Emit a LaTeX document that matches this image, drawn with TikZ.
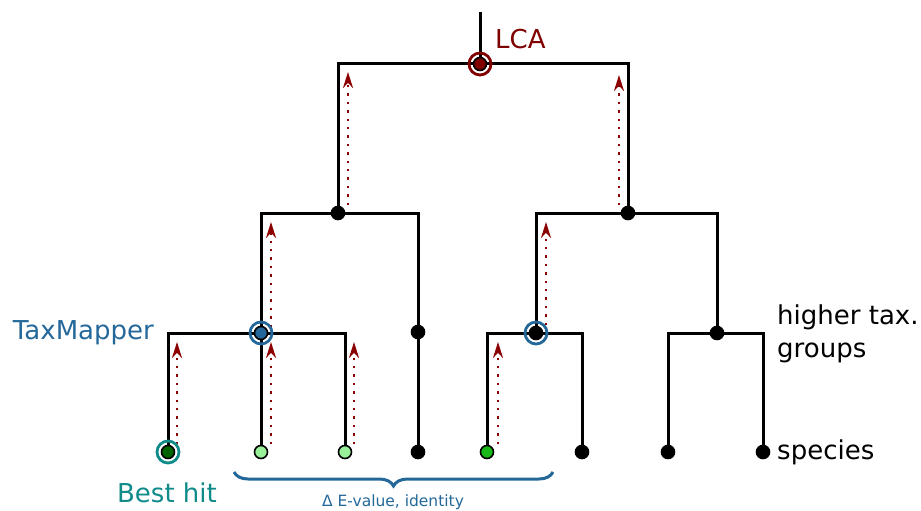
\documentclass[tikz,border=0pt]{standalone}
\usepackage{fontspec}
\setmainfont{DejaVu Sans}
\usetikzlibrary{arrows.meta,calc,decorations.pathreplacing}
\definecolor{lcared}{HTML}{7F0000}
\definecolor{arrred}{HTML}{8B0000}
\definecolor{tmblue}{HTML}{24689A}
\definecolor{hitteal}{HTML}{118A8A}
\definecolor{dkgreen}{HTML}{006400}
\definecolor{ltgreen}{HTML}{98F098}
\definecolor{mdgreen}{HTML}{18B818}
\tikzset{
  edge/.style={line width=3pt, line join=miter},
  dot/.style={circle, fill=black, draw=black, line width=1.6pt, inner sep=0pt, minimum size=13pt},
  ring/.style={circle, draw, line width=2.8pt, inner sep=0pt, minimum size=22pt},
  uparr/.style={draw=arrred, line width=2.4pt, dash pattern=on 2.4pt off 6pt,
     -{Stealth[length=16pt,width=10pt,fill=arrred]}},
  lbl/.style={font=\fontsize{26}{33}\selectfont, inner sep=0pt},
}
\begin{document}
\begin{tikzpicture}[x=1pt,y=-1pt]
\useasboundingbox (0,0) rectangle (921,511);
% positions
\coordinate (top) at (480,12);
\coordinate (lca) at (480,64);
\coordinate (n1) at (338,213);
\coordinate (n2) at (628,213);
\coordinate (n11) at (261,333);
\coordinate (n12) at (418,332);
\coordinate (n21) at (536,333);
\coordinate (n22) at (717,333);
\coordinate (l1) at (168,452);
\coordinate (l2) at (261,452);
\coordinate (l3) at (345,452);
\coordinate (l4) at (418,452);
\coordinate (l5) at (487,452);
\coordinate (l6) at (582,452);
\coordinate (l7) at (668,452);
\coordinate (l8) at (763,452);
% tree edges
\draw[edge] (top) -- (lca);
\draw[edge] (n1) |- (lca) -| (n2);
\draw[edge] (n11) |- (n1) -| (n12);
\draw[edge] (n12) -- (l4);
\draw[edge] (l1) |- (n11) -| (l3);
\draw[edge] (n11) -- (l2);
\draw[edge] (n21) |- (n2) -| (n22);
\draw[edge] (l5) |- (n21) -| (l6);
\draw[edge] (l7) |- (n22) -| (l8);
% arrows
\draw[uparr] ($(l1)+(9,-8)$) -- ($(l1|-n11)+(9,9)$);
\draw[uparr] ($(l2)+(10,-8)$) -- ($(l2|-n11)+(10,9)$);
\draw[uparr] ($(l3)+(9,-8)$) -- ($(l3|-n11)+(9,9)$);
\draw[uparr] ($(l5)+(11,-8)$) -- ($(l5|-n21)+(11,9)$);
\draw[uparr] ($(n11)+(10,-6)$) -- ($(n11|-n1)+(10,9)$);
\draw[uparr] ($(n21)+(10,-8)$) -- ($(n21|-n2)+(10,9)$);
\draw[uparr] ($(n1)+(10,-8)$) -- ($(n1|-lca)+(10,8)$);
\draw[uparr] ($(n2)+(-9,-8)$) -- ($(n2|-lca)+(-9,11)$);
% vertex dots
\node[dot, fill=lcared] (dlca) at (lca) {};
\node[ring, draw=lcared] (rlca) at (lca) {};
\node[dot] (dn1) at (n1) {};
\node[dot] (dn2) at (n2) {};
\node[dot, fill=tmblue] (dn11) at (n11) {};
\node[ring, draw=tmblue] (rn11) at (n11) {};
\node[dot] (dn12) at (n12) {};
\node[dot] (dn21) at (n21) {};
\node[ring, draw=tmblue] (rn21) at (n21) {};
\node[dot] (dn22) at (n22) {};
\node[dot, fill=dkgreen] (dl1) at (l1) {};
\node[ring, draw=hitteal] (rl1) at (l1) {};
\node[dot, fill=ltgreen] (dl2) at (l2) {};
\node[dot, fill=ltgreen] (dl3) at (l3) {};
\node[dot] (dl4) at (l4) {};
\node[dot, fill=mdgreen] (dl5) at (l5) {};
\node[dot] (dl6) at (l6) {};
\node[dot] (dl7) at (l7) {};
\node[dot] (dl8) at (l8) {};
% labels
\node[lbl, text=lcared, anchor=west] (tlca) at (495,39) {LCA};
\node[lbl, text=tmblue, anchor=east] (ttm) at (154,333) {TaxMapper};
\node[lbl, anchor=west, align=left] (thigh) at (777,334) {higher tax.\\groups};
\node[lbl, anchor=west] (tsp) at (777,452) {species};
\node[lbl, text=hitteal] (tbh) at (167,493) {Best hit};
% brace
\coordinate (b1) at (234,472);
\coordinate (b2) at (553,472);
\draw[tmblue, line width=3pt, decorate, decoration={brace, mirror, amplitude=14pt}] (b1) -- (b2);
\node[text=tmblue, font=\fontsize{15.5}{18}\selectfont, inner sep=0pt] (tdelta) at (393,502) {Δ E-value, identity};
\end{tikzpicture}
\end{document}
